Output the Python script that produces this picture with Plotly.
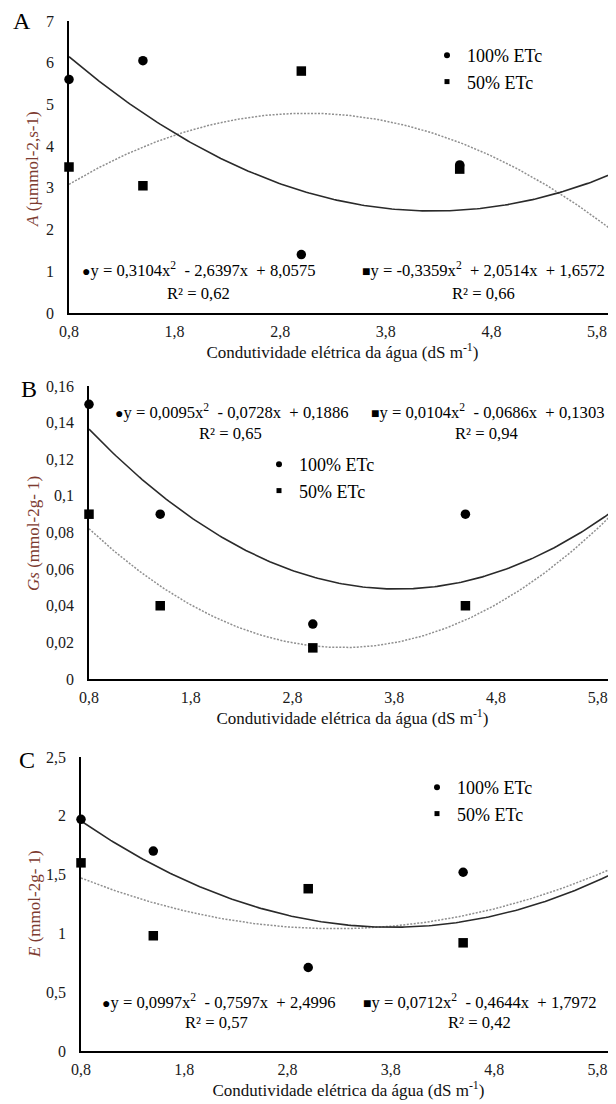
import numpy as np
import plotly.graph_objects as go

# ---------------- data ----------------
x_cond = [0.8, 1.5, 3.0, 4.5, 6.0]
x_tick_vals = [0.8, 1.8, 2.8, 3.8, 4.8, 5.8]
x_tick_text = ["0,8", "1,8", "2,8", "3,8", "4,8", "5,8"]
series_names = ["100% ETc", "50% ETc"]

A_100 = [5.6, 6.05, 1.4, 3.55, 3.0]
A_50 = [3.5, 3.05, 5.8, 3.45, 1.95]
Gs_100 = [0.150, 0.090, 0.030, 0.090, 0.080]
Gs_50 = [0.090, 0.040, 0.017, 0.040, 0.090]
E_100 = [1.97, 1.70, 0.71, 1.52, 1.39]
E_50 = [1.60, 0.98, 1.38, 0.92, 1.64]

# displayed regression coefficients (a, b, c) of y = a x^2 + b x + c
A_fit_100 = [0.3104, -2.6397, 8.0575]
A_fit_50 = [-0.3359, 2.0514, 1.6572]
Gs_fit_100 = [0.0095, -0.0728, 0.1886]
Gs_fit_50 = [0.0104, -0.0686, 0.1303]
E_fit_100 = [0.0997, -0.7597, 2.4996]
E_fit_50 = [0.0712, -0.4644, 1.7972]

A_r2 = ["0,62", "0,66"]
Gs_r2 = ["0,65", "0,94"]
E_r2 = ["0,57", "0,42"]

y_titles = ["<i>A</i> (µmmol-2,s-1)", "<i>Gs</i> (mmol-2g- 1)", "<i>E</i> (mmol-2g- 1)"]
x_title = "Condutividade elétrica da água (dS m<sup>-1</sup>)"
panel_letters = ["A", "B", "C"]

# ---------------- layout geometry ----------------
# the page places the figure 8 px from the top-left corner of the window
OFF = 8
W, H = 616 - OFF, 1104 - OFF
FONT = "Liberation Serif, Times New Roman, serif"
TITLE_COLOR = "#7d3b30"


def px(x):
    return (x - OFF) / W


def py(y):
    return 1 - (y - OFF) / H


# positions below are in window pixels
panels = [
    dict(letter=0, d100=A_100, d50=A_50, f100=A_fit_100, f50=A_fit_50, r2=A_r2,
         left=69, top=21, bottom=313, yrange=[0, 7], dtick=1, ytitle_xy=(33, 169),
         letter_xy=(22, 21), eq1=(80, 270), r1=(198, 293), eq2=(360, 270), r2p=(483, 293),
         leg=(427, 37)),
    dict(letter=1, d100=Gs_100, d50=Gs_50, f100=Gs_fit_100, f50=Gs_fit_50, r2=Gs_r2,
         left=89, top=386, bottom=679, yrange=[0, 0.16], dtick=0.02, ytitle_xy=(33, 534),
         letter_xy=(29, 389), eq1=(113, 412), r1=(230, 433), eq2=(369, 412), r2p=(486, 433),
         leg=(259, 446)),
    dict(letter=2, d100=E_100, d50=E_50, f100=E_fit_100, f50=E_fit_50, r2=E_r2,
         left=81, top=757, bottom=1051, yrange=[0, 2.5], dtick=0.5, ytitle_xy=(34, 904),
         letter_xy=(27, 760), eq1=(100, 1001), r1=(216, 1022), eq2=(361, 1001), r2p=(479, 1022),
         leg=(417, 769)),
]

X_RANGE = [0.8, 5.98]


def fmt(v):
    return f"{abs(v):.4f}".replace(".", ",")


def eq_text(coefs, marker):
    a, b, c = coefs
    sa = ("-" if a < 0 else "") + fmt(a)
    sb = ("- " if b < 0 else "+ ") + fmt(b)
    sc = ("- " if c < 0 else "+ ") + fmt(c)
    nb = "\u00a0"
    return (f'<span style="font-size:14px">{marker}</span>y = {sa}x<sup>2</sup>{nb}{nb}'
            f'{sb}x{nb}{nb}{sc}')


fig = go.Figure()
annotations = []
layout_axes = {}

for i, p in enumerate(panels):
    sfx = "" if i == 0 else str(i + 1)
    xa, ya = "x" + sfx, "y" + sfx
    leg = "legend" + sfx
    x_fit = np.linspace(x_cond[0], x_cond[-1], 200)
    y_fit100 = np.polyval(p["f100"], x_fit)
    y_fit50 = np.polyval(p["f50"], x_fit)

    fig.add_trace(go.Scatter(x=x_fit, y=y_fit50, mode="lines", xaxis=xa, yaxis=ya,
                             line=dict(color="#8f8f8f", width=1.5, dash="2px,1.5px"),
                             showlegend=False, hoverinfo="skip"))
    fig.add_trace(go.Scatter(x=x_fit, y=y_fit100, mode="lines", xaxis=xa, yaxis=ya,
                             line=dict(color="#2a2a2a", width=1.6),
                             showlegend=False, hoverinfo="skip"))
    fig.add_trace(go.Scatter(x=x_cond, y=p["d100"], mode="markers", xaxis=xa, yaxis=ya,
                             marker=dict(symbol="circle", size=9.5, color="black"),
                             name=series_names[0], showlegend=False, cliponaxis=False))
    fig.add_trace(go.Scatter(x=x_cond, y=p["d50"], mode="markers", xaxis=xa, yaxis=ya,
                             marker=dict(symbol="square", size=9.5, color="black"),
                             name=series_names[1], showlegend=False, cliponaxis=False))
    # legend entries
    fig.add_trace(go.Scatter(x=[None], y=[None], mode="markers", xaxis=xa, yaxis=ya,
                             marker=dict(symbol="circle", size=6, color="black"),
                             name=series_names[0], legend=leg))
    fig.add_trace(go.Scatter(x=[None], y=[None], mode="markers", xaxis=xa, yaxis=ya,
                             marker=dict(symbol="square", size=5, color="black"),
                             name=series_names[1], legend=leg))

    ydom = [py(p["bottom"]), py(p["top"])]
    xdom = [px(p["left"]), 1.0]
    layout_axes["xaxis" + sfx] = dict(
        domain=xdom, anchor=ya, range=X_RANGE, tickmode="array", automargin=False,
        tickvals=x_tick_vals, ticktext=x_tick_text, showgrid=False, zeroline=False,
        showline=True, linecolor="black", linewidth=1.5, ticks="outside", ticklen=3,
        tickcolor="rgba(0,0,0,0)", tickfont=dict(family=FONT, size=16, color="#1a1a1a"),
        title=dict(text=x_title, font=dict(family=FONT, size=17, color="#111"), standoff=4),
    )
    layout_axes["yaxis" + sfx] = dict(
        domain=ydom, anchor=xa, range=p["yrange"], dtick=p["dtick"], tick0=0, automargin=False,
        showgrid=False, zeroline=False, showline=True, linecolor="black", linewidth=1.5,
        ticks="outside", ticklen=10, tickcolor="rgba(0,0,0,0)",
        tickfont=dict(family=FONT, size=16, color="#1a1a1a"),
    )
    layout_axes[leg] = dict(
        x=px(p["leg"][0]), y=py(p["leg"][1]), xanchor="left", yanchor="top",
        bgcolor="rgba(0,0,0,0)", font=dict(family=FONT, size=18, color="black"),
        tracegroupgap=0,
    )

    def pa(xy, text, anchor="left", size=16.6, color="black", angle=0):
        annotations.append(dict(x=px(xy[0]), y=py(xy[1]), xref="paper", yref="paper",
                                text=text, showarrow=False, xanchor=anchor, yanchor="middle",
                                textangle=angle,
                                font=dict(family=FONT, size=size, color=color)))

    pa(p["letter_xy"], panel_letters[p["letter"]], anchor="center", size=24)
    pa(p["ytitle_xy"], y_titles[i], anchor="center", size=17, color=TITLE_COLOR, angle=-90)
    pa(p["eq1"], eq_text(p["f100"], "●"))
    pa(p["r1"], f"R² = {p['r2'][0]}", anchor="center")
    pa(p["eq2"], eq_text(p["f50"], "■"))
    pa(p["r2p"], f"R² = {p['r2'][1]}", anchor="center")

fig.update_layout(
    width=W, height=H, margin=dict(l=0, r=0, t=0, b=0, autoexpand=False),
    paper_bgcolor="white", plot_bgcolor="white",
    separators=", ", font=dict(family=FONT, color="black"),
    annotations=annotations, **layout_axes,
)

fig.write_html("out.html")
